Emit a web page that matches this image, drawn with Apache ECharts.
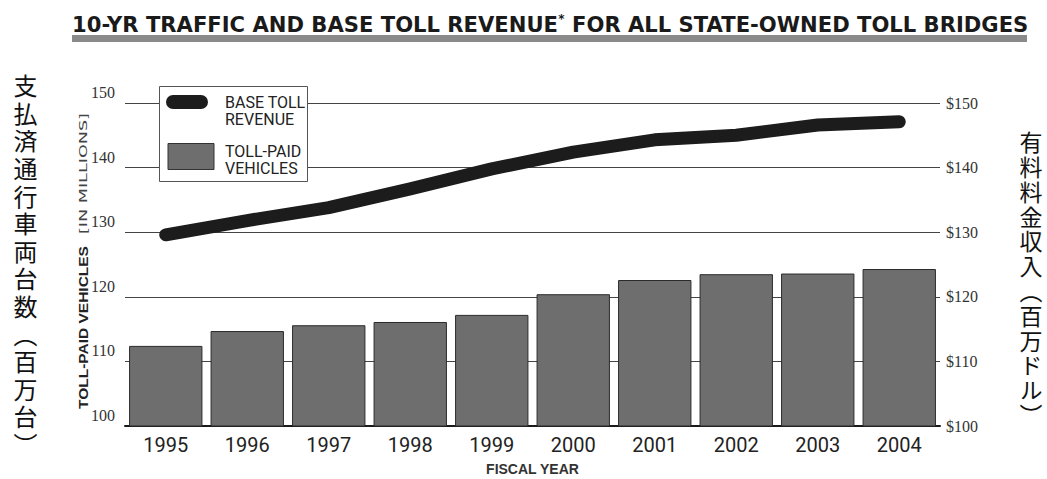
<!DOCTYPE html>
<html><head><meta charset="utf-8">
<script src="https://cdn.jsdelivr.net/npm/echarts@6/dist/echarts.min.js"></script>
<style>
html,body{margin:0;padding:0;background:#fff}
#wrap{position:relative;width:1047px;height:479px}
#c{width:1047px;height:479px}
.vj{position:absolute;writing-mode:vertical-rl;font-family:"Noto Sans CJK JP";color:#111;white-space:nowrap}
#ljp{left:10px;top:74px;font-size:24px;line-height:30px;letter-spacing:3.6px}
#rjp{left:1017px;top:131px;font-size:23px;line-height:28px;letter-spacing:1.8px}
</style>
</head><body><div id="wrap"><div id="c"></div>
<div class="vj" id="ljp"></div><div class="vj" id="rjp"></div></div>
<script>
// ---- data ----
const years = ['1995','1996','1997','1998','1999','2000','2001','2002','2003','2004'];
const vehicles = [112.4, 114.7, 115.6, 116.1, 117.2, 120.4, 122.6, 123.5, 123.6, 124.3]; // millions
const revenue  = [129.6, 131.8, 133.8, 136.7, 139.8, 142.4, 144.3, 145.0, 146.6, 147.1]; // $ millions
const tickValues = [100, 110, 120, 130, 140, 150];

const titleText = '10-YR TRAFFIC AND BASE TOLL REVENUE* FOR ALL STATE-OWNED TOLL BRIDGES';
const leftJa = '支払済通行車両台数（百万台）';
const rightJa = '有料料金収入（百万ドル）';

document.getElementById('ljp').textContent = leftJa;
document.getElementById('rjp').textContent = rightJa;

function fit(text, font, width) {
  const ctx = document.createElement('canvas').getContext('2d');
  ctx.font = font;
  return width / ctx.measureText(text).width;
}

const titleFont = 'bold 21px "DejaVu Sans"';
const titleScale = fit(titleText.replace('*', ''), titleFont, 950);
const axNameFont = 'bold 13px "Liberation Sans"';
const axNameScale = fit('TOLL-PAID VEHICLES', axNameFont, 163);
const axName2Font = '11px "DejaVu Sans"';
const axName2Scale = Math.min(1.6, fit('[IN MILLIONS]', axName2Font, 140));

const chart = echarts.init(document.getElementById('c'), null, {renderer: 'svg'});
chart.setOption({
  animation: false,
  backgroundColor: '#fff',
  grid: {left: 125, right: 107, top: 103, bottom: 53, outerBoundsMode: 'none', containLabel: false},
  xAxis: {
    type: 'category',
    data: years,
    axisTick: {show: false},
    axisLine: {lineStyle: {color: '#1a1a1a', width: 2}},
    axisLabel: {fontFamily: 'Roboto', fontSize: 20, color: '#222', margin: 9},
    name: 'FISCAL YEAR',
    nameLocation: 'middle',
    nameGap: 35,
    nameTextStyle: {fontFamily: 'Liberation Sans', fontWeight: 'bold', fontSize: 14, lineHeight: 15, color: '#333'}
  },
  yAxis: [{
    type: 'value',
    min: tickValues[0], max: tickValues[tickValues.length - 1], interval: 10,
    axisLine: {show: false}, axisTick: {show: false},
    splitLine: {show: true, lineStyle: {color: '#444', width: 1}},
    axisLabel: {fontFamily: 'Liberation Serif', fontSize: 16, color: '#333', margin: 10,
      verticalAlign: 'bottom', lineHeight: 21}
  }, {
    type: 'value',
    min: tickValues[0], max: tickValues[tickValues.length - 1], interval: 10,
    axisLine: {show: false}, axisTick: {show: false},
    splitLine: {show: false},
    axisLabel: {fontFamily: 'Liberation Serif', fontSize: 16, color: '#333', margin: 6,
      formatter: v => '$' + v}
  }],
  series: [{
    type: 'bar',
    data: vehicles,
    barCategoryGap: '10%',
    itemStyle: {color: '#6e6e6e', borderColor: '#2b2b2b', borderWidth: 1},
    z: 2
  }, {
    type: 'line',
    yAxisIndex: 1,
    data: revenue,
    symbol: 'none',
    lineStyle: {color: '#1c1c1c', width: 13, cap: 'round', join: 'round'},
    z: 3
  }],
  graphic: [
    {type: 'text', x: 72, y: 13, scaleX: titleScale, z: 10,
      style: {text: '10-YR TRAFFIC AND BASE TOLL REVENUE{s|*} FOR ALL STATE-OWNED TOLL BRIDGES',
        font: titleFont, lineHeight: 24, fill: '#1a1a1a', verticalAlign: 'top',
        rich: {s: {fontSize: 12, fontWeight: 'bold', fontFamily: 'DejaVu Sans', verticalAlign: 'top', lineHeight: 12}}}},
    {type: 'rect', z: 10, shape: {x: 72, y: 35, width: 955, height: 7}, style: {fill: '#8a8a8a'}},
    {type: 'text', x: 83, y: 409, rotation: Math.PI / 2, scaleX: axNameScale, z: 10,
      style: {text: 'TOLL-PAID VEHICLES', font: axNameFont, fill: '#222', align: 'left', verticalAlign: 'middle'}},
    {type: 'text', x: 83, y: 234, rotation: Math.PI / 2, scaleX: axName2Scale, z: 10,
      style: {text: '[IN MILLIONS]', font: axName2Font, fill: '#444', align: 'left', verticalAlign: 'middle'}},
    // legend box
    {type: 'rect', z: 20, shape: {x: 159.5, y: 86.5, width: 148, height: 95},
      style: {fill: '#fff', stroke: '#555', lineWidth: 1}},
    {type: 'rect', z: 21, shape: {x: 166, y: 95, width: 42, height: 14, r: 7}, style: {fill: '#1c1c1c'}},
    {type: 'text', z: 21, x: 225, y: 94,
      style: {text: 'BASE TOLL\nREVENUE', font: '16px Roboto', lineHeight: 17, fill: '#222', verticalAlign: 'top'}},
    {type: 'rect', z: 21, shape: {x: 168, y: 143.5, width: 46, height: 26},
      style: {fill: '#6e6e6e', stroke: '#333', lineWidth: 1}},
    {type: 'text', z: 21, x: 225, y: 143,
      style: {text: 'TOLL-PAID\nVEHICLES', font: '16px Roboto', lineHeight: 17, fill: '#222', verticalAlign: 'top'}}
  ]
});
</script></body></html>
